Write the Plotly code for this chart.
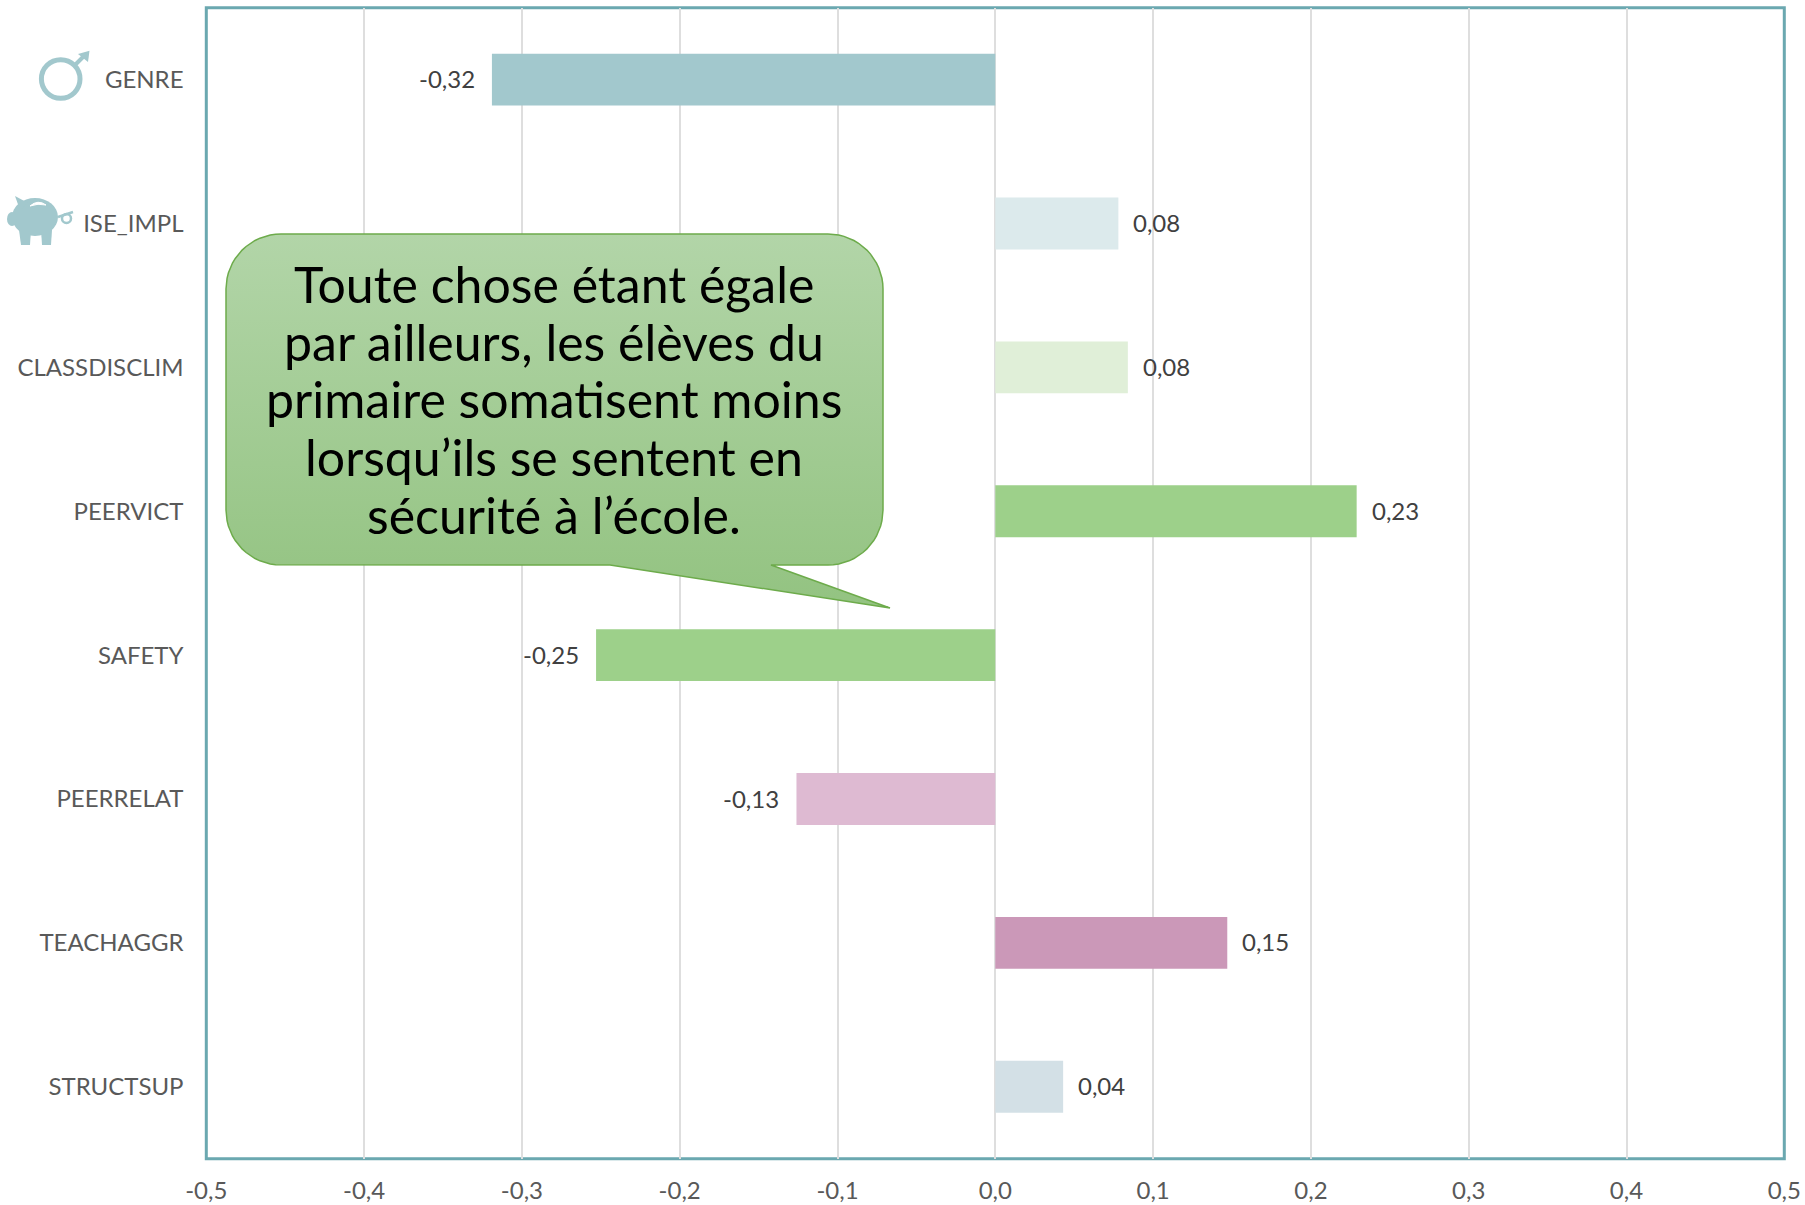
import math
import plotly.graph_objects as go

W, H = 1805, 1205

categories = ["GENRE", "ISE_IMPL", "CLASSDISCLIM", "PEERVICT", "SAFETY", "PEERRELAT", "TEACHAGGR", "STRUCTSUP"]
values = [-0.319, 0.078, 0.084, 0.229, -0.253, -0.126, 0.147, 0.043]
value_labels = ["-0,32", "0,08", "0,08", "0,23", "-0,25", "-0,13", "0,15", "0,04"]
bar_colors = ["#A2C8CD", "#DCEAEC", "#E0EFD8", "#9DD08A", "#9DD08A", "#DEBAD2", "#CB98B8", "#D3E0E6"]
x_ticks = [-0.5, -0.4, -0.3, -0.2, -0.1, 0.0, 0.1, 0.2, 0.3, 0.4, 0.5]
x_tick_labels = ["-0,5", "-0,4", "-0,3", "-0,2", "-0,1", "0,0", "0,1", "0,2", "0,3", "0,4", "0,5"]
callout_lines = [
    "Toute chose étant égale",
    "par ailleurs, les élèves du",
    "primaire somatisent moins",
    "lorsqu’ils se sentent en",
    "sécurité à l’école.",
]

FONT = "Lato"
GREY = "#595959"
ICON = "#A2C8CD"


def callout_outline(left, top, right, bottom, r, tail):
    """rounded box with the speech tail on the bottom edge, in page pixels"""
    xs, ys = [], []
    corners = [(right - r, top + r, -90), (right - r, bottom - r, 0), (left + r, bottom - r, 90), (left + r, top + r, 180)]
    for i, (cx, cy, start) in enumerate(corners):
        for step in range(17):
            a = math.radians(start + step * 90 / 16)
            xs.append(cx + r * math.cos(a))
            ys.append(cy + r * math.sin(a))
        if i == 1:
            for px, py in tail:
                xs.append(px)
                ys.append(py)
    xs.append(xs[0])
    ys.append(ys[0])
    return xs, ys


fig = go.Figure()

fig.add_trace(go.Bar(
    x=values,
    y=categories,
    orientation="h",
    width=0.36,
    marker=dict(color=bar_colors, line_width=0),
    showlegend=False,
    hoverinfo="skip",
))

# callout sits on a full page overlay subplot so it can use a gradient fill
cx, cy = callout_outline(226, 234, 883, 565, 55, [(771, 565), (890, 608), (610, 565)])
fig.add_trace(go.Scatter(
    x=cx,
    y=cy,
    xaxis="x2",
    yaxis="y2",
    mode="lines",
    fill="toself",
    fillgradient=dict(type="vertical", colorscale=[[0, "#93C381"], [1, "#B2D5A8"]]),
    line=dict(color="#6DAB4B", width=1.5),
    showlegend=False,
    hoverinfo="skip",
))

annotations = []
for cat, val, lab in zip(categories, values, value_labels):
    annotations.append(dict(
        x=val, y=cat, xref="x", yref="y",
        text=lab, showarrow=False,
        xanchor="left" if val > 0 else "right",
        xshift=13 if val > 0 else -15,
        yshift=1,
        font=dict(family=FONT, size=24, color="#404040"),
    ))
for i, line in enumerate(callout_lines):
    annotations.append(dict(
        x=554, y=284 + i * 57.7, xref="x2", yref="y2",
        text=line, showarrow=False,
        align="center",
        font=dict(family=FONT, size=50, color="#000000"),
    ))

shapes = [
    # plot frame
    dict(type="rect", xref="x domain", yref="y domain", x0=0, y0=0, x1=1, y1=1,
         line=dict(color="#6BA8B0", width=3), layer="below"),
    # male symbol
    dict(type="circle", xref="x2", yref="y2", x0=41.4, y0=59.7, x1=80, y1=98.3,
         line=dict(color=ICON, width=5)),
    dict(type="line", xref="x2", yref="y2", x0=75, y0=65, x1=85, y1=55,
         line=dict(color=ICON, width=4)),
    dict(type="path", xref="x2", yref="y2", path="M 78 54 L 89.5 50.7 L 88 62 Z",
         fillcolor=ICON, line_width=0),
    # piggy bank
    dict(type="circle", xref="x2", yref="y2", x0=12, y0=198, x1=58, y1=236,
         fillcolor=ICON, line_width=0),
    dict(type="path", xref="x2", yref="y2", path="M 15 196 L 28 203 L 20 210 Z",
         fillcolor=ICON, line_width=0),
    dict(type="circle", xref="x2", yref="y2", x0=7, y0=212, x1=17, y1=226,
         fillcolor=ICON, line_width=0),
    dict(type="path", xref="x2", yref="y2", path="M 19 230 L 21 245 L 30 245 L 31 230 Z",
         fillcolor=ICON, line_width=0),
    dict(type="path", xref="x2", yref="y2", path="M 41 230 L 42 245 L 51 245 L 52 230 Z",
         fillcolor=ICON, line_width=0),
    dict(type="path", xref="x2", yref="y2", path="M 30 206 Q 38 199 46 205 Q 38 203 30 206 Z",
         fillcolor="#FFFFFF", line=dict(color="#FFFFFF", width=1)),
    dict(type="circle", xref="x2", yref="y2", x0=62, y0=214, x1=71, y1=223,
         line=dict(color=ICON, width=2.5)),
    dict(type="line", xref="x2", yref="y2", x0=58, y0=217, x1=73, y1=212,
         line=dict(color=ICON, width=2.5)),
]

fig.update_layout(
    width=W,
    height=H,
    margin=dict(l=0, r=0, t=0, b=0, pad=0),
    paper_bgcolor="#FFFFFF",
    plot_bgcolor="rgba(0,0,0,0)",
    autosize=False,
    annotations=annotations,
    shapes=shapes,
    xaxis=dict(
        automargin=False,
        domain=[206.3 / W, 1784.3 / W],
        range=[-0.5, 0.5],
        tickvals=x_ticks,
        ticktext=x_tick_labels,
        tickfont=dict(family=FONT, size=24, color=GREY),
        ticks="outside",
        ticklen=10,
        tickcolor="rgba(0,0,0,0)",
        showgrid=True,
        gridcolor="#DEDEDE",
        gridwidth=2,
        zeroline=False,
        showline=False,
    ),
    yaxis=dict(
        automargin=False,
        domain=[1 - 1158.7 / H, 1 - 7.7 / H],
        categoryorder="array",
        categoryarray=categories,
        autorange="reversed",
        tickfont=dict(family=FONT, size=24, color=GREY),
        ticks="outside",
        ticklen=17,
        tickcolor="rgba(0,0,0,0)",
        showgrid=False,
        zeroline=False,
        showline=False,
    ),
    xaxis2=dict(automargin=False, domain=[0, 1], range=[0, W], visible=False, anchor="y2"),
    yaxis2=dict(automargin=False, domain=[0, 1], range=[H, 0], visible=False, anchor="x2"),
)

fig.write_html(
    "out.html",
    config={"displayModeBar": False},
    post_script="document.body.style.margin='0';document.body.style.overflow='hidden';",
)
